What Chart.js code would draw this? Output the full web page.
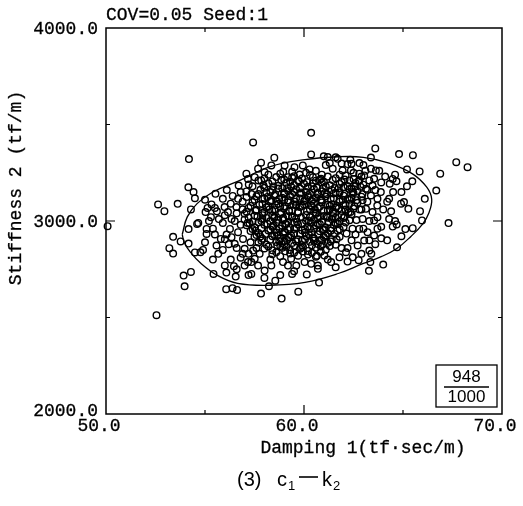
<!DOCTYPE html>
<html>
<head>
<meta charset="utf-8">
<script src="https://cdn.jsdelivr.net/npm/chart.js@4/dist/chart.umd.min.js"></script>
<style>
  html, body { margin: 0; padding: 0; background: #fff; }
  #wrap { width: 523px; height: 506px; }
</style>
</head>
<body>
<div id="wrap"><canvas id="c" width="523" height="506"></canvas></div>
<script>
// axis ticks
const xTicks = [50, 60, 70]
const yTicks = [2000, 3000, 4000]
const xMinorTicks = [55, 65]
const yMinorTicks = [2500, 3500]

// samples outside / near the ellipse (damping, stiffness)
const outerPoints = [
  [50.08, 2973], [52.55, 2512], [60.36, 3457], [57.43, 3407], [54.19, 3321],
  [58.5, 3328], [60.36, 3345], [63.6, 3376], [64.8, 3347], [65.5, 3341],
  [67.69, 3305], [68.26, 3279], [66.88, 3245], [66.68, 3158], [67.3, 2989],
  [66.1, 3115], [65.84, 3257], [65.2, 3267], [57.83, 3302], [61.2, 3331],
  [61.7, 3322], [62.34, 3317], [63.38, 3329], [52.63, 3086], [52.95, 3051],
  [53.62, 3089], [54.16, 3175], [54.42, 3150], [54.49, 3118], [54.29, 3060],
  [53.39, 2918], [53.2, 2859], [53.39, 2831], [53.77, 2894], [53.92, 2717],
  [53.97, 2662], [54.29, 2736], [54.17, 2883], [54.17, 2958], [54.49, 2837],
  [54.77, 2838], [55.43, 2726], [56.07, 2647], [56.39, 2652], [56.62, 2643],
  [56.55, 2712], [56.08, 2733], [56.46, 2766], [57.83, 2624], [58.87, 2598],
  [59.71, 2634], [60.76, 2681], [58.23, 2662], [58.55, 2691], [59.4, 2726],
  [60.14, 2723], [63.28, 2742], [64.0, 2774], [63.35, 2787], [62.76, 2797],
  [64.7, 2864], [64.92, 2921], [65.49, 2963], [65.96, 3003], [65.86, 3051],
  [65.27, 3063], [65.05, 3098], [65.12, 2958], [64.68, 2982], [64.48, 2971],
  [64.33, 3193], [64.67, 3206], [64.48, 3218], [65.47, 3206], [64.92, 3150],
  [64.3, 3115], [63.71, 3020], [63.71, 2960]
]

// samples in the ring between core and ellipse
const ringPoints = [
  [55.5, 3068], [55.33, 3086], [55.13, 3068], [55.03, 3046], [54.66, 2990],
  [54.6, 2985], [55.08, 2959], [55.08, 2933], [55.0, 2890], [55.5, 2930],
  [55.58, 2873], [55.8, 2907], [55.67, 2830], [56.09, 2930], [56.26, 2959],
  [56.34, 2916], [56.5, 2882], [56.67, 2942], [56.92, 2907], [57.0, 2856],
  [55.53, 3141], [55.9, 3115], [55.99, 3072], [56.16, 3046], [56.34, 3011],
  [56.59, 3072], [56.67, 3115], [56.7, 3184], [57.09, 3153], [57.21, 3189],
  [57.51, 3227], [57.84, 3210], [57.17, 3218], [57.09, 3245], [57.68, 3271],
  [58.01, 3253], [58.35, 3288], [59.02, 3288], [59.52, 3279], [59.94, 3288],
  [60.28, 3267], [59.19, 3227], [59.78, 3241], [60.45, 3227], [60.86, 3219],
  [61.45, 3271], [61.95, 3262], [62.37, 3262], [62.79, 3245], [63.04, 3236],
  [63.38, 3271], [63.63, 3262], [63.54, 3219], [63.88, 3150], [63.71, 3115],
  [63.38, 3132], [63.13, 3167], [63.46, 3184], [62.96, 3107], [63.13, 3063],
  [63.46, 3046], [63.54, 3003], [62.96, 3011], [62.79, 2959], [63.21, 2942],
  [63.54, 2925], [63.04, 2899], [62.71, 2873], [63.3, 2847], [62.46, 2812],
  [62.12, 2838], [61.79, 2812], [61.37, 2787], [61.03, 2821], [60.7, 2769],
  [60.36, 2778], [60.7, 2752], [60.03, 2787], [59.61, 2769], [59.19, 2769],
  [58.94, 2787], [58.35, 2769], [58.01, 2743], [57.68, 2769], [57.34, 2726],
  [57.0, 2769], [57.17, 2787], [57.51, 2804], [57.76, 2830], [57.43, 2847],
  [57.34, 2787], [64.0, 3060], [64.3, 3010], [63.9, 2970], [64.5, 3150],
  [64.9, 3090], [65.2, 3180], [64.1, 3230], [63.8, 3260], [64.6, 3240],
  [63.6, 2880], [64.2, 2900], [63.4, 2830], [62.2, 2790], [61.6, 2760],
  [59.5, 2740], [58.8, 2720], [58.0, 2705], [57.2, 2720], [56.6, 2750],
  [56.0, 2770], [55.4, 2800], [54.9, 2850], [55.3, 3020], [55.9, 2990],
  [56.1, 3160], [56.8, 3150], [57.4, 3180], [55.0, 3110], [55.6, 3050],
  [56.6, 3040], [57.7, 3210], [58.8, 3245], [58.2, 3240], [59.4, 3255],
  [60.6, 3260], [61.1, 3290], [62.2, 3295], [62.8, 3300], [63.0, 3290],
  [61.0, 3335], [61.6, 3330], [61.3, 3300], [61.9, 3298], [62.4, 3296],
  [55.7, 3010], [56.0, 3030], [56.3, 3090], [56.5, 3000], [56.8, 2980],
  [56.9, 3060], [56.2, 2880], [56.6, 2860], [56.9, 2830], [55.9, 2850],
  [55.4, 2960], [55.2, 3000], [56.0, 2905], [56.4, 3130], [56.9, 3100],
  [57.1, 3125], [56.3, 2800], [56.8, 2810], [57.3, 2890], [57.2, 2830],
  [62.9, 3060], [63.2, 3100], [63.3, 3000], [63.0, 2960], [62.6, 2930],
  [62.4, 2900], [62.2, 2860], [62.9, 2830], [63.3, 2900], [62.8, 3210],
  [63.3, 3210], [63.6, 3160], [63.9, 3200], [63.7, 3080], [64.2, 3100],
  [64.4, 3050], [63.9, 2910], [64.6, 3000], [62.5, 3250], [63.1, 3260]
]

// dense centre of the cloud
const corePoints = [
  [58.6, 3228], [59.0, 3215], [59.5, 3232], [59.9, 3220], [60.3, 3238], [60.8, 3214],
  [61.2, 3230], [61.6, 3222], [62.1, 3236], [62.5, 3218], [62.9, 3230],
  [58.2, 3195], [58.7, 3182], [59.1, 3198], [59.5, 3186], [60.0, 3193], [60.4, 3180],
  [60.9, 3199], [61.3, 3185], [61.8, 3192], [62.2, 3181], [62.6, 3197], [63.0, 3188],
  [57.8, 3162], [58.3, 3150], [58.7, 3168], [59.2, 3155], [59.6, 3164], [60.1, 3150],
  [60.5, 3166], [60.9, 3154], [61.4, 3161], [61.8, 3149], [62.3, 3166], [62.7, 3156], [63.2, 3162],
  [57.6, 3128], [58.0, 3117], [58.5, 3132], [58.9, 3121], [59.3, 3129], [59.8, 3116],
  [60.2, 3134], [60.6, 3122], [61.1, 3127], [61.5, 3118], [62.0, 3131], [62.4, 3120], [62.9, 3126],
  [57.4, 3098], [57.9, 3088], [58.3, 3101], [58.7, 3090], [59.2, 3097], [59.6, 3085],
  [60.0, 3102], [60.5, 3091], [60.9, 3096], [61.4, 3086], [61.8, 3100], [62.3, 3089], [62.7, 3094],
  [57.2, 3068], [57.6, 3058], [58.1, 3071], [58.5, 3060], [59.0, 3066], [59.4, 3055],
  [59.8, 3072], [60.3, 3061], [60.7, 3067], [61.2, 3056], [61.6, 3070], [62.1, 3059], [62.5, 3064],
  [57.0, 3038], [57.5, 3027], [57.9, 3041], [58.4, 3030], [58.8, 3036], [59.2, 3025],
  [59.7, 3042], [60.1, 3031], [60.6, 3037], [61.0, 3026], [61.5, 3040], [61.9, 3029], [62.4, 3035],
  [57.0, 3008], [57.4, 2998], [57.9, 3011], [58.3, 3000], [58.7, 3006], [59.2, 2995],
  [59.6, 3012], [60.1, 3001], [60.5, 3007], [60.9, 2996], [61.4, 3010], [61.8, 2999], [62.3, 3004],
  [57.1, 2978], [57.5, 2968], [58.0, 2981], [58.4, 2970], [58.9, 2976], [59.3, 2965],
  [59.7, 2982], [60.2, 2971], [60.6, 2977], [61.1, 2966], [61.5, 2980], [62.0, 2969],
  [57.3, 2948], [57.7, 2938], [58.2, 2951], [58.6, 2940], [59.0, 2946], [59.5, 2935],
  [59.9, 2952], [60.4, 2941], [60.8, 2947], [61.2, 2936], [61.7, 2950],
  [57.5, 2918], [57.9, 2908], [58.4, 2921], [58.8, 2910], [59.2, 2916], [59.7, 2905],
  [60.1, 2922], [60.5, 2911], [61.0, 2917], [61.4, 2906], [61.8, 2919],
  [57.7, 2888], [58.1, 2878], [58.6, 2891], [59.0, 2880], [59.4, 2886], [59.9, 2875],
  [60.3, 2892], [60.7, 2881], [61.2, 2887], [61.6, 2877],
  [58.0, 2858], [58.4, 2848], [58.9, 2861], [59.3, 2850], [59.8, 2856], [60.2, 2845],
  [60.6, 2862], [61.1, 2851],
  [58.4, 2828], [58.8, 2818], [59.3, 2831], [59.7, 2820], [60.2, 2826], [60.6, 2815],
  [59.0, 3140], [59.8, 3142], [60.7, 3139], [61.5, 3143], [58.8, 3075], [59.6, 3080],
  [60.4, 3077], [61.3, 3079], [62.0, 3082], [58.5, 3015], [59.4, 3018], [60.3, 3020],
  [61.2, 3017], [62.0, 3016], [58.6, 2955], [59.5, 2958], [60.3, 2960], [61.0, 2957],
  [59.0, 2895], [59.9, 2898], [60.8, 2900]
]

// second, offset layer of the dense centre
const coreFill = [
  [58.4, 3205], [58.85, 3212], [59.3, 3203], [59.7, 3211], [60.15, 3201], [60.6, 3209],
  [61.0, 3204], [61.45, 3213], [61.9, 3202], [62.3, 3210], [62.75, 3206],
  [58.0, 3172], [58.45, 3179], [58.9, 3170], [59.35, 3178], [59.8, 3169], [60.2, 3177],
  [60.65, 3173], [61.1, 3180], [61.55, 3171], [62.0, 3176], [62.4, 3168], [62.85, 3178],
  [57.7, 3140], [58.1, 3147], [58.55, 3139], [59.0, 3146], [59.4, 3138], [59.85, 3148],
  [60.3, 3141], [60.7, 3146], [61.15, 3138], [61.6, 3147], [62.05, 3141], [62.5, 3145], [62.95, 3139],
  [57.5, 3110], [57.9, 3115], [58.35, 3108], [58.75, 3114], [59.2, 3107], [59.6, 3116],
  [60.05, 3109], [60.45, 3113], [60.9, 3106], [61.35, 3115], [61.8, 3110], [62.2, 3114], [62.65, 3108],
  [57.3, 3078], [57.75, 3084], [58.2, 3077], [58.6, 3083], [59.05, 3076], [59.45, 3085],
  [59.9, 3079], [60.35, 3082], [60.8, 3075], [61.2, 3084], [61.65, 3078], [62.1, 3083], [62.55, 3077],
  [57.1, 3048], [57.55, 3053], [58.0, 3046], [58.4, 3052], [58.85, 3045], [59.25, 3054],
  [59.7, 3048], [60.15, 3051], [60.6, 3044], [61.0, 3053], [61.45, 3047], [61.9, 3052], [62.35, 3046],
  [57.2, 3018], [57.65, 3023], [58.1, 3016], [58.5, 3022], [58.95, 3015], [59.4, 3024],
  [59.85, 3018], [60.3, 3021], [60.7, 3014], [61.15, 3023], [61.6, 3017], [62.05, 3022],
  [57.25, 2988], [57.7, 2993], [58.15, 2986], [58.6, 2992], [59.05, 2985], [59.5, 2994],
  [59.9, 2988], [60.35, 2991], [60.8, 2984], [61.25, 2993], [61.7, 2987], [62.1, 2992],
  [57.4, 2958], [57.85, 2963], [58.3, 2956], [58.75, 2962], [59.2, 2955], [59.6, 2964],
  [60.05, 2958], [60.5, 2961], [60.95, 2954], [61.35, 2963], [61.8, 2957],
  [57.6, 2928], [58.05, 2933], [58.5, 2926], [58.95, 2932], [59.35, 2925], [59.8, 2934],
  [60.25, 2928], [60.7, 2931], [61.1, 2924], [61.55, 2933],
  [57.85, 2898], [58.3, 2903], [58.75, 2896], [59.15, 2902], [59.6, 2895], [60.05, 2904],
  [60.5, 2898], [60.9, 2901], [61.35, 2894],
  [58.2, 2868], [58.65, 2873], [59.1, 2866], [59.5, 2872], [59.95, 2865], [60.4, 2874],
  [60.85, 2868], [61.3, 2871],
  [58.6, 2838], [59.05, 2843], [59.5, 2836], [59.95, 2842], [60.4, 2835], [60.85, 2841]
]

// scattered extra samples inside the dark blob
const coreExtra = [
  [58.25, 3060], [58.95, 3005], [59.55, 3100], [60.05, 2940], [60.75, 3025], [61.35, 2950],
  [61.95, 3110], [59.15, 3170], [60.45, 3195], [61.75, 3170], [58.65, 2925], [59.85, 2862],
  [60.95, 2880], [57.85, 3000], [57.55, 2950], [62.25, 3045], [62.65, 3005], [59.25, 3050],
  [60.55, 3060], [61.05, 3145], [58.15, 3125], [58.45, 2975], [59.65, 2995], [60.85, 3110],
  [61.45, 3025], [62.15, 2935], [57.95, 3185], [60.25, 3000], [59.05, 2940], [61.65, 2905],
  [60.65, 2820], [59.35, 2805], [62.45, 3150], [62.8, 3060], [58.95, 3255], [60.1, 3250],
  [61.8, 3240], [57.35, 3140], [57.15, 2990], [57.6, 2860], [58.3, 2800], [61.2, 2800],
  [61.9, 2860], [62.45, 2960], [62.6, 3180], [62.05, 3215], [60.9, 3240], [59.4, 3225],
  [58.0, 3220], [57.9, 3030], [58.6, 3102], [59.5, 3150], [60.4, 3103], [61.3, 3060],
  [60.0, 3085], [59.1, 2985], [60.7, 2985], [61.6, 2990], [58.8, 2870], [61.1, 2925],
  [59.75, 3205], [60.95, 3168], [58.4, 3160], [62.3, 3110], [57.8, 2920], [59.3, 2915],
  [60.45, 2915], [60.2, 3125], [59.0, 3110], [61.75, 3065]
]

// probability ellipse
const ellipsePath = [
  [53.85, 2930], [54.1, 3020], [54.6, 3090], [55.4, 3150], [56.65, 3205],
  [58.3, 3282], [60.05, 3318], [61.73, 3333], [63.0, 3330], [64.3, 3300],
  [65.5, 3243], [66.2, 3175], [66.45, 3113], [66.3, 3040], [66.0, 2985],
  [65.4, 2920], [64.67, 2856], [63.9, 2815], [63.0, 2780], [61.73, 2728],
  [60.05, 2682], [58.3, 2667], [56.65, 2677], [55.6, 2720], [54.8, 2780],
  [54.25, 2840], [53.95, 2890], [53.85, 2930]
]

const insideCount = 948
const totalCount = 1000

const MONO = '"Liberation Mono", "Courier New", monospace'
const SANS = '"Liberation Sans", Arial, sans-serif'

const toXY = arr => arr.map(([x, y]) => ({ x, y }))

// slightly heavier text, like the scanned typewriter lettering
function text(ctx, s, x, y) {
  ctx.fillText(s, x, y)
  ctx.strokeText(s, x, y)
}

const frame = {
  id: 'frame',
  afterDraw(chart) {
    const { ctx, chartArea: a, scales: { x, y } } = chart
    ctx.save()
    ctx.strokeStyle = '#000'
    ctx.fillStyle = '#000'
    ctx.lineWidth = 1.5
    ctx.strokeRect(a.left, a.top, a.right - a.left, a.bottom - a.top)

    // inward ticks on all four sides
    ctx.lineWidth = 1.2
    const tickX = (v, len) => {
      const px = x.getPixelForValue(v)
      ctx.beginPath()
      ctx.moveTo(px, a.bottom); ctx.lineTo(px, a.bottom - len)
      ctx.moveTo(px, a.top); ctx.lineTo(px, a.top + len)
      ctx.stroke()
    }
    const tickY = (v, len) => {
      const py = y.getPixelForValue(v)
      ctx.beginPath()
      ctx.moveTo(a.left, py); ctx.lineTo(a.left + len, py)
      ctx.moveTo(a.right, py); ctx.lineTo(a.right - len, py)
      ctx.stroke()
    }
    xTicks.slice(1, -1).forEach(v => tickX(v, 9))
    xMinorTicks.forEach(v => tickX(v, 4))
    yTicks.slice(1, -1).forEach(v => tickY(v, 9))
    yMinorTicks.forEach(v => tickY(v, 4))

    // tick labels
    ctx.lineWidth = 0.3
    ctx.font = '18px ' + MONO
    ctx.textBaseline = 'middle'
    ctx.textAlign = 'right'
    yTicks.forEach(v => {
      const py = y.getPixelForValue(v)
      text(ctx, v.toFixed(1), a.left - 8, v === yTicks[0] ? py - 3 : py + 1)
    })
    ctx.textAlign = 'center'
    xTicks.forEach(v => {
      text(ctx, v.toFixed(1), x.getPixelForValue(v) - 7, a.bottom + 12)
    })

    // titles
    ctx.textAlign = 'left'
    text(ctx, 'COV=0.05 Seed:1', a.left, 15)
    ctx.textAlign = 'center'
    text(ctx, 'Damping 1(tf\u00b7sec/m)', 363, a.bottom + 34)
    ctx.save()
    ctx.translate(16, 188)
    ctx.rotate(-Math.PI / 2)
    text(ctx, 'Stiffness 2 (tf/m)', 0, 0)
    ctx.restore()

    // ratio box
    const bx = a.right - 66, by = a.bottom - 49, bw = 61, bh = 42
    ctx.lineWidth = 1.3
    ctx.strokeRect(bx, by, bw, bh)
    ctx.font = '17px ' + SANS
    ctx.fillText(String(insideCount), bx + bw / 2, by + 12)
    ctx.beginPath()
    ctx.moveTo(bx + 8, by + 22); ctx.lineTo(bx + bw - 8, by + 22)
    ctx.stroke()
    ctx.fillText(String(totalCount), bx + bw / 2, by + 32)

    // caption
    ctx.textAlign = 'left'
    ctx.font = '20px ' + SANS
    ctx.fillText('(3)', 237, 480)
    ctx.fillText('c', 277, 480)
    ctx.fillText('k', 322, 480)
    ctx.font = '13px ' + SANS
    ctx.fillText('1', 288, 486)
    ctx.fillText('2', 333, 486)
    ctx.lineWidth = 1.6
    ctx.beginPath()
    ctx.moveTo(299, 477); ctx.lineTo(318, 477)
    ctx.stroke()
    ctx.restore()
  }
}

new Chart(document.getElementById('c'), {
  type: 'scatter',
  data: {
    datasets: [
      {
        label: 'samples',
        data: toXY([...outerPoints, ...ringPoints, ...corePoints, ...coreFill, ...coreExtra]),
        pointStyle: 'circle',
        pointRadius: 3.3,
        pointBorderWidth: 1.4,
        pointBorderColor: '#000',
        pointBackgroundColor: 'rgba(0,0,0,0)',
        clip: false,
      },
      {
        label: 'ellipse',
        data: toXY(ellipsePath),
        showLine: true,
        tension: 0.4,
        borderColor: '#000',
        borderWidth: 1.3,
        pointRadius: 0,
        fill: false,
      },
    ],
  },
  options: {
    responsive: false,
    animation: false,
    events: [],
    layout: { padding: { left: 106, top: 28, right: 21, bottom: 92 } },
    plugins: { legend: { display: false }, tooltip: { enabled: false } },
    scales: {
      x: { type: 'linear', min: 50, max: 70, display: false },
      y: { type: 'linear', min: 2000, max: 4000, display: false },
    },
  },
  plugins: [frame],
})
</script>
</body>
</html>
